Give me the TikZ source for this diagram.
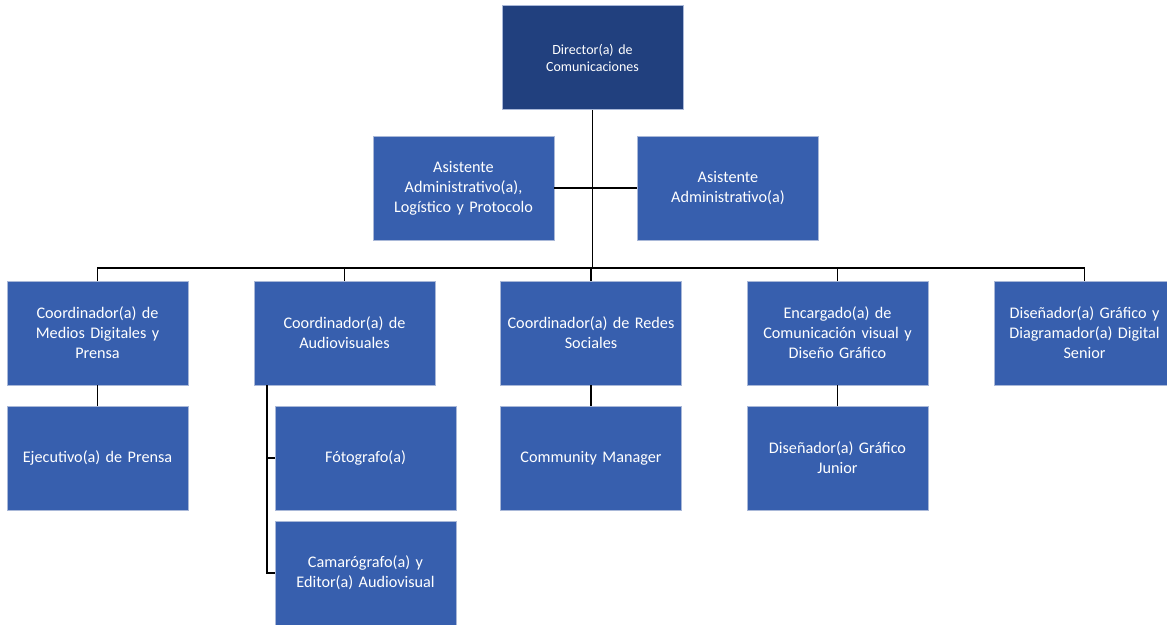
\documentclass[tikz,border=0pt]{standalone}
\usepackage{fontspec}
\setmainfont{Carlito}
\definecolor{dirblue}{HTML}{21407E}
\definecolor{boxblue}{HTML}{375FAE}
\definecolor{edgeblue}{HTML}{A9B8D8}
\begin{document}
\begin{tikzpicture}[x=1pt,y=-1pt,
  box/.style={draw=edgeblue,line width=0.8pt,fill=boxblue,text=white,
    minimum width=181pt,minimum height=104pt,inner sep=2pt,align=center,
    font=\fontsize{16.2}{20}\selectfont,text width=172pt},
  topbox/.style={box,fill=dirblue,font=\fontsize{14}{17}\selectfont},
  link/.style={draw=black,line width=1.3pt}]
\useasboundingbox (0,0) rectangle (1167,624);
\node[topbox] (dir) at (592.5,57.5) {Director(a) de\\Comunicaciones};
\node[box] (asl) at (463.5,188) {Asistente\\Administrativo(a),\\Logístico y Protocolo};
\node[box] (asr) at (728,188) {Asistente\\Administrativo(a)};
\node[box] (c1) at (97.5,333) {Coordinador(a) de\\Medios Digitales y\\Prensa};
\node[box] (c2) at (344.5,333) {Coordinador(a) de\\Audiovisuales};
\node[box] (c3) at (591,333) {Coordinador(a) de Redes\\Sociales};
\node[box] (c4) at (837.5,333) {Encargado(a) de\\Comunicación visual y\\Diseño Gráfico};
\node[box] (c5) at (1084.5,333) {Diseñador(a) Gráfico y\\Diagramador(a) Digital\\Senior};
\node[box] (e1) at (97.5,458) {Ejecutivo(a) de Prensa};
\node[box] (fo) at (365.5,458) {Fótografo(a)};
\node[box] (ca) at (365.5,573) {Camarógrafo(a) y\\Editor(a) Audiovisual};
\node[box] (cm) at (591,458) {Community Manager};
\node[box] (dj) at (837.5,458) {Diseñador(a) Gráfico\\Junior};
\coordinate (bus) at (592.5,268);
\coordinate (av) at (267,385);
\begin{scope}[on background layer/.try]
\end{scope}
\draw[link] (dir.south) -- (bus);
\draw[link] (asl.east) -- (asr.west);
\draw[link] (c1.north) |- (bus) -| (c5.north);
\draw[link] (bus -| c2.north) -- (c2.north);
\draw[link] (bus -| c3.north) -- (c3.north);
\draw[link] (bus -| c4.north) -- (c4.north);
\draw[link] (c1.south) -- (e1.north);
\draw[link] (c3.south) -- (cm.north);
\draw[link] (c4.south) -- (dj.north);
\draw[link] (av) |- (fo.west);
\draw[link] (av) |- (ca.west);
\end{tikzpicture}
\end{document}
